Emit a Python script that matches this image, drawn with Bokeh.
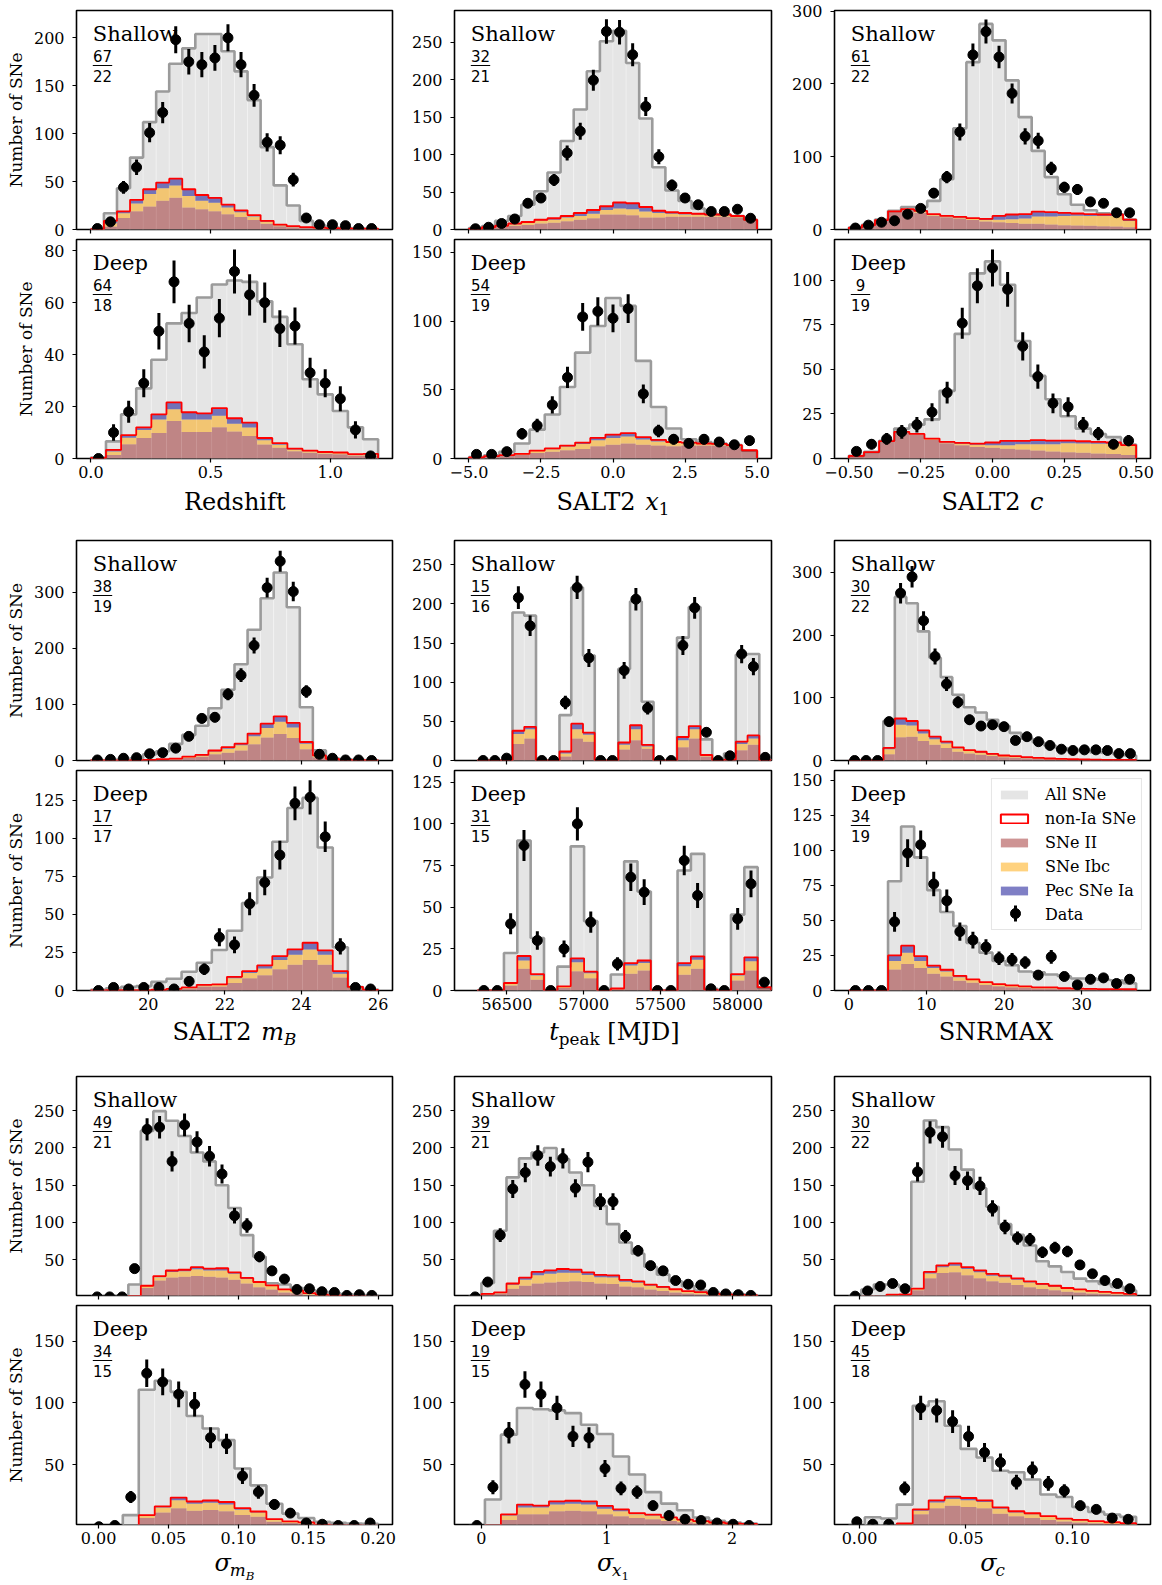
import numpy as np
from bokeh.plotting import figure
from bokeh.layouts import column, row
from bokeh.models import Range1d, FixedTicker, Legend, LegendItem
from bokeh.core.properties import value
from bokeh.embed import file_html
from bokeh.resources import INLINE

# ---------------- data ----------------
# bin ranges (lo, hi); shallow and deep fields use their own bin counts
z_range = (0.0, 1.2)
x1_range = (-5.0, 5.0)
c_range = (-0.5, 0.5)
mb_range = (18.5, 26.0)
tpeak_range = (56307.0, 58219.0)
snr_range = (0.0, 37.0)
smb_range = (-0.0055, 0.2)
sx1_range = (-0.1, 2.2)
sc_range = (-0.005, 0.13)

# redshift
z_shallow_sim = [0.5, 17, 43, 75, 112, 144, 173, 189, 204, 204, 186, 165, 135, 86, 46, 25, 9, 4, 2, 1.5, 1, 0.5]
z_shallow_ii = [0.2, 3, 12, 19, 24, 30, 33, 23, 21, 19, 16, 13, 10, 6, 3.5, 2.4, 1.7, 1.4, 1, 0.8, 0.7, 0.5]
z_shallow_ibc = [0.1, 3.5, 5, 8, 13, 13, 13, 12, 9, 9, 7, 5, 3.5, 2, 1, 0.8, 0.6, 0.4, 0.4, 0.3, 0.2, 0.2]
z_shallow_pec = [0, 2.5, 2, 4, 5, 6, 7, 7, 6, 5, 3, 2, 1.5, 1, 0.5, 0.3, 0.2, 0.2, 0.1, 0.1, 0.1, 0.1]
z_shallow_data = [1, 8, 44, 65, 101, 122, 198, 175, 172, 179, 200, 172, 140, 91, 88, 52, 12, 5, 5, 4, 1, 1]
z_deep_sim = [0.4, 6.6, 17, 27, 38, 52, 56, 62, 67, 68.5, 68, 60.5, 54.5, 44, 30.5, 24.7, 18.3, 12, 7.4]
z_deep_ii = [0.1, 1.3, 5.5, 7.9, 9.8, 14.4, 10.2, 10.2, 12, 10.4, 8.7, 5.4, 4.1, 2.8, 2.2, 1.8, 1.6, 1.2, 1.2]
z_deep_ibc = [0.1, 1.4, 2.5, 3.1, 5.2, 4.6, 4.8, 4.8, 4.5, 3, 3.2, 1.6, 1.2, 0.7, 0.6, 0.5, 0.5, 0.4, 0.4]
z_deep_pec = [0, 0.6, 1, 1, 2, 2.6, 2.8, 2.4, 2.9, 2.1, 1.9, 0.9, 0.6, 0.3, 0.2, 0.2, 0.2, 0.1, 0.2]
z_deep_data = [0, 10, 18, 29, 49, 68, 52, 41, 54, 72, 63, 60, 50, 51, 33, 29, 23, 11, 1]

# SALT2 x1
x1_shallow_sim = [2, 4.5, 11.5, 18, 33, 51, 76, 118, 160, 211, 251, 265, 222, 148, 83, 52, 38, 28, 21, 20, 18, 13]
x1_shallow_ii = [1, 2, 3.5, 5, 6, 8, 9, 11, 13, 15, 20, 20, 19, 16, 16, 17, 17, 17, 17, 17, 16, 12]
x1_shallow_ibc = [0, 0.5, 1, 2, 3, 4, 4, 5, 5, 6, 6, 8, 8, 8, 6, 4, 3, 3, 2, 2, 1.5, 1]
x1_shallow_pec = [0, 0.5, 0.5, 1, 1, 1, 2, 2, 4, 5, 5, 8, 8, 6, 3, 2, 2, 1, 1, 1, 0.5, 0]
x1_shallow_data = [1, 3, 8, 14, 35, 42, 66, 102, 131, 199, 264, 263, 233, 164, 97, 59, 42, 33, 24, 24, 27, 15]
x1_deep_sim = [1, 2.4, 4.8, 10.9, 21, 32, 52, 77, 96.4, 116.7, 111, 71, 37.5, 21.8, 14, 12, 10.9, 9.7, 5.6]
x1_deep_ii = [0.8, 1.6, 2, 2.5, 4, 5, 6, 7, 9, 10, 11, 10, 9.5, 9, 9.5, 9.5, 9.5, 8.8, 5.5]
x1_deep_ibc = [0, 0.2, 0.3, 0.7, 1.4, 1.8, 2.7, 3.5, 4.3, 5, 5, 3.8, 2.8, 2.3, 1.6, 1.1, 1, 0.7, 0.4]
x1_deep_pec = [0, 0, 0.1, 0.2, 0.4, 0.5, 0.7, 1.1, 1.7, 2.4, 2.4, 1.7, 1.3, 0.7, 0.5, 0.3, 0.2, 0.2, 0.1]
x1_deep_data = [3, 3, 5, 18, 24, 39, 59, 103, 107, 102, 109, 47, 20, 14, 11, 14, 12, 10, 13]

# SALT2 c
c_shallow_sim = [2.7, 6.4, 13.7, 25.6, 31, 31, 39.3, 69, 139, 230, 282.6, 260, 205, 154.5, 108, 72, 48.5, 34, 26.5, 22.4, 21, 13.7]
c_shallow_ii = [2.7, 6, 13, 24.5, 27, 23, 19, 17, 15, 13, 11, 10, 9, 8, 8, 7, 6, 5.5, 5, 4.5, 4, 3]
c_shallow_ibc = [0, 0, 0, 0.3, 0.7, 2, 1.5, 1.2, 1.5, 1.5, 2, 3.5, 5, 7, 10, 11, 12.5, 13.5, 13.5, 14, 14.5, 9]
c_shallow_pec = [0, 0, 0, 0.2, 0.3, 0.6, 0.5, 0.5, 0.9, 1, 1.6, 5.2, 6.6, 6, 6.7, 5.8, 4.4, 3, 2.5, 2.1, 2.1, 1.7]
c_shallow_data = [2, 6, 10, 12, 21, 29, 50, 72, 134, 240, 272, 237, 187, 128, 122, 84, 58, 55, 38, 36, 23, 23]
c_deep_sim = [1.5, 3.7, 10, 16.8, 19, 22, 38, 70, 104, 110.7, 97.6, 66, 46.4, 33.3, 23.7, 16.8, 13.8, 12, 7.9]
c_deep_ii = [1.5, 3.6, 9.8, 14.5, 13.3, 10.5, 8.5, 7.5, 6.5, 6, 5.5, 5, 4.5, 4, 3.5, 3.2, 2.8, 2.5, 2]
c_deep_ibc = [0, 0, 0, 0.3, 0.3, 0.5, 0.5, 0.8, 1.2, 1.5, 2, 3, 3.5, 4, 5, 5.2, 5.5, 5.8, 5]
c_deep_pec = [0, 0, 0, 0.2, 0.2, 0.2, 0.3, 0.5, 0.7, 1.5, 2.4, 1.9, 2.3, 2, 1.5, 1.3, 1, 0.7, 0.5]
c_deep_data = [4, 8, 11, 15, 19, 26, 37, 76, 97, 107, 95, 63, 46, 31, 29, 19, 14, 8, 10]

# SALT2 mB
mb_shallow_sim = [0.5, 1, 2.4, 4, 11, 16.6, 29.6, 45.6, 62, 93, 126, 171.6, 233, 289, 335, 273, 95, 18, 4, 2, 0.6, 0.3]
mb_shallow_ii = [0.1, 0.2, 0.3, 0.5, 0.8, 1.6, 2.3, 4.5, 6.5, 11, 14, 18, 29, 41, 47, 40, 20, 6, 2, 0.8, 0.4, 0.2]
mb_shallow_ibc = [0, 0, 0, 0.1, 0.3, 0.6, 0.8, 1.8, 2.6, 5, 7, 9, 14, 17, 22, 19, 10, 2.3, 0.8, 0.3, 0.15, 0.08]
mb_shallow_pec = [0, 0, 0, 0, 0.1, 0.2, 0.4, 0.7, 0.9, 1.8, 2.7, 3, 5, 7.7, 9.7, 8, 3, 0.7, 0.2, 0.1, 0.05, 0.02]
mb_shallow_data = [1, 2, 4, 5, 12, 14, 22, 43, 75, 77, 118, 152, 205, 308, 355, 301, 123, 11, 4, 1, 1, 0]
mb_deep_sim = [0.4, 1.5, 2.4, 2.9, 5.7, 7.7, 12.3, 18.2, 26.6, 39.3, 57.4, 74.3, 97.8, 120, 126.6, 94, 28.4, 2.2, 0.7]
mb_deep_ii = [0.05, 0.1, 0.2, 0.2, 0.3, 0.7, 1.3, 2.6, 2.6, 5, 8, 10, 14, 17, 20, 17, 8.5, 1.5, 0.3]
mb_deep_ibc = [0.03, 0.07, 0.07, 0.07, 0.15, 0.3, 0.5, 0.8, 1.1, 3, 3.5, 4.5, 6, 6.5, 7, 6.5, 2.5, 0.7, 0.1]
mb_deep_pec = [0.02, 0.03, 0.03, 0.03, 0.05, 0.1, 0.2, 0.3, 0.3, 1, 1.2, 2, 2.6, 3.5, 4.4, 2.9, 1.7, 0.2, 0]
mb_deep_data = [0, 2, 1, 2, 2, 1, 6, 14, 35, 30, 57, 71, 89, 123, 127, 101, 29, 2, 1]

# t_peak
tp_shallow_sim = [0, 0, 0, 189, 185, 0, 0, 58, 221, 134, 0, 0, 117, 203, 75, 0, 0, 157, 196, 27, 0, 9, 135, 136, 1]
tp_shallow_ii = [0, 0, 0, 21, 28, 0, 0, 5, 28, 24, 0, 0, 14, 26, 15, 0, 0, 17, 28, 5, 0, 0.5, 13, 20, 0.3]
tp_shallow_ibc = [0, 0, 0, 13, 12, 0, 0, 4, 12, 9, 0, 0, 6, 14, 3, 0, 0, 9, 12, 1.5, 0, 0.3, 8, 8, 0.1]
tp_shallow_pec = [0, 0, 0, 4, 3, 0, 0, 2.5, 7, 2.6, 0, 0, 3, 5, 2, 0, 0, 4, 4, 0.5, 0, 0.2, 3, 4, 0.1]
tp_shallow_data = [0, 0, 3, 208, 172, 0, 0, 74, 221, 131, 0, 0, 115, 206, 67, 0, 0, 147, 195, 36, 0, 6, 136, 120, 4]
tp_deep_sim = [0, 0, 22.5, 90, 31.5, 0, 14.3, 86.5, 41.6, 0, 9.6, 77.5, 59.4, 0, 0, 72, 82, 1, 0, 45.5, 74, 1.6]
tp_deep_ii = [0, 0, 3, 13, 6.5, 0, 1.5, 11.5, 7.3, 0, 0.8, 10, 12, 0, 0, 9.5, 13, 0.3, 0, 6, 12, 1.5]
tp_deep_ibc = [0, 0, 1, 5, 2.5, 0, 0.7, 5.5, 3, 0, 0.3, 5, 4.5, 0, 0, 5, 5.5, 0.1, 0, 3, 5.5, 0.4]
tp_deep_pec = [0, 0, 0.5, 2.7, 0.8, 0, 0.3, 2.3, 1, 0, 0.1, 1.4, 1.5, 0, 0, 1.9, 2, 0.1, 0, 0.8, 2.4, 0.1]
tp_deep_data = [0, 0, 40, 87, 30, 0, 25, 100, 41, 0, 16, 68, 59, 0, 0, 78, 57, 1, 0, 43, 64, 5]

# SNRMAX
snr_shallow_sim = [0, 0, 0, 63, 261, 251, 206, 164, 133, 105, 85, 76.5, 65, 55, 44, 35, 29, 24, 20, 17, 15, 13, 12, 10, 8]
snr_shallow_ii = [0, 0, 0, 10, 37, 38, 31, 25, 20, 14, 11, 9, 7, 5, 4.5, 3.5, 2.8, 2.1, 1.6, 1.3, 1, 0.8, 0.6, 0.6, 0.6]
snr_shallow_ibc = [0, 0, 0, 8, 20, 18, 12, 9, 7, 5, 4, 3.5, 2.6, 2.2, 1.8, 1.4, 1.1, 0.8, 0.7, 0.5, 0.4, 0.4, 0.3, 0.3, 0.3]
snr_shallow_pec = [0, 0, 0, 2, 10, 7, 5, 4, 3, 2, 1.5, 1.5, 1, 0.8, 0.7, 0.4, 0.3, 0.3, 0.2, 0.2, 0.2, 0.1, 0.1, 0.1, 0.1]
snr_shallow_data = [0, 0, 0, 62, 267, 293, 223, 166, 122, 93, 65, 55, 57, 54, 32, 38, 30, 24, 18, 16, 17, 17, 16, 11, 11]
snr_deep_sim = [0, 0, 0, 78, 117, 95, 71.6, 56, 46, 34, 27, 21, 18, 13.6, 13, 11.4, 10.2, 8.6, 8.6, 7.7, 7.3, 5.2]
snr_deep_ii = [0, 0, 0, 15, 19, 16, 12, 10, 7, 5.5, 4, 3, 2.4, 2, 1.5, 1.5, 1, 0.9, 0.8, 0.6, 0.6, 0.6]
snr_deep_ibc = [0, 0, 0, 6, 8, 5, 4, 3.5, 2.5, 2, 1.5, 1.1, 0.9, 0.7, 0.6, 0.6, 0.4, 0.4, 0.3, 0.3, 0.3, 0.2]
snr_deep_pec = [0, 0, 0, 4, 5, 3.5, 1.7, 1.3, 1, 0.5, 0.5, 0.4, 0.3, 0.3, 0.2, 0.2, 0.2, 0.1, 0.1, 0.1, 0.1, 0.1]
snr_deep_data = [0, 0, 0, 49, 98, 104, 76, 64, 42, 36, 31, 23, 22, 20, 11, 24, 10, 4, 8, 9, 5, 8]

# sigma mB
smb_shallow_sim = [0, 0, 0.5, 16.6, 223, 249.5, 236.5, 216, 194, 182, 150, 119.5, 83, 54, 18.4, 16.6, 12, 9, 7, 5, 3.5, 2.5, 2]
smb_shallow_ii = [0, 0, 0, 1, 12, 22, 26, 27, 28, 27, 26, 23, 18, 13, 10, 6, 5, 3, 2, 1.2, 0.8, 0.6, 0.3]
smb_shallow_ibc = [0, 0, 0, 0.2, 2.5, 4.5, 7.5, 7.5, 9, 8.5, 9.5, 8, 6, 6, 4.5, 3.5, 3, 1.7, 0.9, 0.6, 0.5, 0.3, 0.2]
smb_shallow_pec = [0, 0, 0, 0.1, 0.5, 1.5, 2, 2, 3, 2.5, 3, 2, 1.5, 1, 1, 0.5, 0.5, 0.3, 0.1, 0.2, 0.2, 0.1, 0]
smb_shallow_data = [0, 0, 0, 38, 225, 228, 182, 231, 208, 189, 165, 109, 96, 54, 35, 24, 10, 11, 7, 6, 2, 3, 2]
smb_deep_sim = [0, 0.3, 9.4, 110.7, 118, 109, 89.5, 79.4, 70, 47, 33.4, 18.6, 10.6, 7, 3.9, 3.1, 2.6, 2.3]
smb_deep_ii = [0, 0, 0.3, 7, 11.5, 15, 13, 13.5, 12.5, 9.5, 8, 4, 3, 2.4, 1.1, 0.7, 0.7, 0.5]
smb_deep_ibc = [0, 0, 0.1, 1.8, 4, 6.5, 5.5, 5.8, 5.5, 4.2, 3.5, 1.7, 1, 0.8, 0.4, 0.3, 0.2, 0.2]
smb_deep_pec = [0, 0, 0.1, 0.6, 0.9, 2.1, 1.9, 1.9, 2, 1.3, 0.8, 0.5, 0.3, 0.3, 0.1, 0.1, 0.1, 0.1]
smb_deep_data = [0, 1, 24, 124, 117, 107, 99, 72, 67, 41, 28, 18, 11, 3, 2, 1, 1, 3]

# sigma x1
sx1_shallow_sim = [0.5, 18.8, 88.8, 160.5, 186, 194, 200, 185, 167, 150, 122, 97.7, 73, 58, 40.6, 30, 21, 14.4, 8.6, 6, 4.5, 3.5, 2.5]
sx1_shallow_ii = [0, 3, 4.5, 11, 15, 18, 19.5, 20.5, 21, 20, 18, 17.5, 14, 13, 10, 8, 6, 4.5, 3.6, 2.6, 2, 1.6, 1.3]
sx1_shallow_ibc = [0, 0.7, 1.2, 5.5, 8, 11, 11.5, 12, 11.5, 9.5, 8.5, 8.5, 6.5, 6, 5, 4, 3.2, 2.5, 2.2, 1.5, 1.2, 0.9, 0.8]
sx1_shallow_pec = [0, 0.3, 0.3, 1.5, 3, 4.5, 4.7, 5, 4.1, 3.5, 3, 3, 2.5, 2, 1.6, 1.4, 1.1, 0.7, 0.5, 0.4, 0.3, 0.3, 0.2]
sx1_shallow_data = [0, 20, 83, 145, 167, 190, 175, 186, 146, 181, 128, 128, 81, 62, 42, 35, 22, 17, 16, 6, 4, 3, 2]
sx1_deep_sim = [0.5, 22, 74.4, 96, 95, 94, 91.8, 82.4, 75, 56.7, 42.2, 28, 18.7, 13.3, 7.4, 4.7, 3.4, 2.6]
sx1_deep_ii = [0.2, 0.6, 5.5, 10, 10, 12.5, 13, 12.5, 10, 8.5, 7, 6, 4.7, 3.6, 2.8, 2, 1.6, 1.4]
sx1_deep_ibc = [0.1, 0.3, 3.5, 5.5, 5.5, 5.5, 5.5, 5.5, 4.5, 4, 3, 3, 2.3, 1.8, 1.4, 1.1, 0.8, 0.7]
sx1_deep_pec = [0, 0.1, 1, 2.4, 1.5, 2.5, 2.5, 2.5, 2.3, 1.5, 1, 0.8, 0.6, 0.4, 0.3, 0.3, 0.2, 0.2]
sx1_deep_data = [1, 32, 76, 115, 107, 96, 73, 72, 47, 31, 28, 17, 9, 6, 5, 3, 2, 1]

# sigma c
sc_shallow_sim = [0.5, 10, 16.6, 16.6, 13.5, 154.7, 237, 228, 198, 171, 146, 121, 97.7, 83.4, 69, 47.8, 41, 33.5, 24.6, 21, 17.5, 13.5, 8.6]
sc_shallow_ii = [0, 0.2, 0.3, 2, 2.5, 9, 25, 32, 33, 29, 25, 21, 19, 16, 13, 10.5, 9, 7, 6, 4.5, 4, 3.2, 2.3]
sc_shallow_ibc = [0, 0, 0, 0.7, 0.8, 1.5, 6.5, 8, 9, 8.5, 8, 7.5, 7.5, 7, 6.5, 5.5, 4.8, 4, 3.3, 2.8, 2.3, 1.9, 1.4]
sc_shallow_pec = [0, 0, 0, 0.3, 0.2, 0.5, 2, 2.4, 3, 2.5, 2.7, 2.5, 2.1, 2, 1.5, 1.5, 1.2, 1, 0.7, 0.7, 0.5, 0.4, 0.3]
sc_shallow_data = [1, 8, 14, 18, 11, 168, 221, 215, 163, 156, 149, 119, 94, 79, 77, 60, 66, 61, 43, 31, 22, 18, 11]
sc_deep_sim = [1, 7.7, 6.6, 17.9, 97.7, 101.4, 81.6, 62.9, 56, 45.2, 44, 38.2, 26, 24, 16, 12, 9.8, 8]
sc_deep_ii = [0, 0.3, 0.5, 1.5, 10, 15, 17, 16, 15, 10.5, 8.5, 7, 5.5, 4.2, 3.4, 2.8, 2.2, 1.8]
sc_deep_ibc = [0, 0, 0, 0.8, 3, 4.5, 5.5, 5.5, 5, 4, 3, 3, 2.4, 1.9, 1.6, 1.4, 1.1, 0.9]
sc_deep_pec = [0, 0, 0, 0.3, 1, 1.8, 1.8, 1.7, 1.3, 1.2, 1, 0.9, 0.6, 0.5, 0.5, 0.3, 0.3, 0.2]
sc_deep_data = [4, 2, 2, 31, 96, 94, 85, 73, 60, 52, 36, 46, 35, 29, 17, 14, 7, 6]

# chi2 / dof shown under the field name
chi2 = {
    "z": (("67", "22"), ("64", "18")),
    "x1": (("32", "21"), ("54", "19")),
    "c": (("61", "22"), ("9", "19")),
    "mb": (("38", "19"), ("17", "17")),
    "tp": (("15", "16"), ("31", "15")),
    "snr": (("30", "22"), ("34", "19")),
    "smb": (("49", "21"), ("34", "15")),
    "sx1": (("39", "21"), ("19", "15")),
    "sc": (("30", "22"), ("45", "18")),
}

# axes: x view, x ticks/labels, y views and ticks
z_xview = (-0.06, 1.26)
z_xticks = [0.0, 0.5, 1.0]
z_xlabels = ["0.0", "0.5", "1.0"]
x1_xview = (-5.5, 5.5)
x1_xticks = [-5.0, -2.5, 0.0, 2.5, 5.0]
x1_xlabels = ["\u22125.0", "\u22122.5", "0.0", "2.5", "5.0"]
c_xview = (-0.55, 0.55)
c_xticks = [-0.5, -0.25, 0.0, 0.25, 0.5]
c_xlabels = ["\u22120.50", "\u22120.25", "0.00", "0.25", "0.50"]
mb_xview = (18.125, 26.375)
mb_xticks = [20, 22, 24, 26]
mb_xlabels = ["20", "22", "24", "26"]
tp_xview = (56159, 58222)
tp_xticks = [56500, 57000, 57500, 58000]
tp_xlabels = ["56500", "57000", "57500", "58000"]
snr_xview = (-1.85, 38.85)
snr_xticks = [0, 10, 20, 30]
snr_xlabels = ["0", "10", "20", "30"]
smb_xview = (-0.0158, 0.2103)
smb_xticks = [0.0, 0.05, 0.1, 0.15, 0.2]
smb_xlabels = ["0.00", "0.05", "0.10", "0.15", "0.20"]
sx1_xview = (-0.215, 2.315)
sx1_xticks = [0, 1, 2]
sx1_xlabels = ["0", "1", "2"]
sc_xview = (-0.01175, 0.13675)
sc_xticks = [0.0, 0.05, 0.1]
sc_xlabels = ["0.00", "0.05", "0.10"]

yviews = {
    "z": ((0, 228.5), (0, 84.3)), "x1": ((0, 292), (0, 159.3)), "c": ((0, 301), (0, 123)),
    "mb": ((0, 392), (0, 144.6)), "tp": ((0, 281), (0, 132)), "snr": ((0, 351), (0, 157)),
    "smb": ((1.9, 296), (1.8, 178.8)), "sx1": ((1.9, 296), (1.8, 178.8)), "sc": ((1.9, 296), (1.8, 178.8)),
}
yticks = {
    "z": ([0, 50, 100, 150, 200], [0, 20, 40, 60, 80]),
    "x1": ([0, 50, 100, 150, 200, 250], [0, 50, 100, 150]),
    "c": ([0, 100, 200, 300], [0, 25, 50, 75, 100]),
    "mb": ([0, 100, 200, 300], [0, 25, 50, 75, 100, 125]),
    "tp": ([0, 50, 100, 150, 200, 250], [0, 25, 50, 75, 100, 125]),
    "snr": ([0, 100, 200, 300], [0, 25, 50, 75, 100, 125, 150]),
    "smb": ([50, 100, 150, 200, 250], [50, 100, 150]),
    "sx1": ([50, 100, 150, 200, 250], [50, 100, 150]),
    "sc": ([50, 100, 150, 200, 250], [50, 100, 150]),
}

# axis titles as (text, italic, size px, baseline shift px); blank pieces are spacing only
xtitles = {
    "z": [("Redshift", False, 24, 0)],
    "x1": [("SALT2", False, 24, 0), (" ", False, 24, 0), ("x", True, 24, 0), ("1", False, 16.8, -5)],
    "c": [("SALT2", False, 24, 0), (" ", False, 24, 0), ("c", True, 24, 0)],
    "mb": [("SALT2", False, 24, 0), (" ", False, 24, 0), ("m", True, 24, 0), ("B", True, 16.8, -5)],
    "tp": [("t", True, 24, 0), ("peak", False, 16.8, -5), (" ", False, 24, 0), ("[MJD]", False, 24, 0)],
    "snr": [("SNRMAX", False, 24, 0)],
    "smb": [("\u03c3", True, 24, 0), ("m", True, 16.8, -5), ("B", True, 11.8, -8.5)],
    "sx1": [("\u03c3", True, 24, 0), ("x", True, 16.8, -5), ("1", False, 11.8, -8.5)],
    "sc": [("\u03c3", True, 24, 0), ("c", True, 16.8, -5)],
}

panels = {
    "z": dict(bins=z_range, xview=z_xview, xticks=z_xticks, xlabels=z_xlabels,
              shallow=(z_shallow_sim, z_shallow_ii, z_shallow_ibc, z_shallow_pec, z_shallow_data),
              deep=(z_deep_sim, z_deep_ii, z_deep_ibc, z_deep_pec, z_deep_data)),
    "x1": dict(bins=x1_range, xview=x1_xview, xticks=x1_xticks, xlabels=x1_xlabels,
               shallow=(x1_shallow_sim, x1_shallow_ii, x1_shallow_ibc, x1_shallow_pec, x1_shallow_data),
               deep=(x1_deep_sim, x1_deep_ii, x1_deep_ibc, x1_deep_pec, x1_deep_data)),
    "c": dict(bins=c_range, xview=c_xview, xticks=c_xticks, xlabels=c_xlabels,
              shallow=(c_shallow_sim, c_shallow_ii, c_shallow_ibc, c_shallow_pec, c_shallow_data),
              deep=(c_deep_sim, c_deep_ii, c_deep_ibc, c_deep_pec, c_deep_data)),
    "mb": dict(bins=mb_range, xview=mb_xview, xticks=mb_xticks, xlabels=mb_xlabels,
               shallow=(mb_shallow_sim, mb_shallow_ii, mb_shallow_ibc, mb_shallow_pec, mb_shallow_data),
               deep=(mb_deep_sim, mb_deep_ii, mb_deep_ibc, mb_deep_pec, mb_deep_data)),
    "tp": dict(bins=tpeak_range, xview=tp_xview, xticks=tp_xticks, xlabels=tp_xlabels,
               shallow=(tp_shallow_sim, tp_shallow_ii, tp_shallow_ibc, tp_shallow_pec, tp_shallow_data),
               deep=(tp_deep_sim, tp_deep_ii, tp_deep_ibc, tp_deep_pec, tp_deep_data)),
    "snr": dict(bins=snr_range, xview=snr_xview, xticks=snr_xticks, xlabels=snr_xlabels,
                shallow=(snr_shallow_sim, snr_shallow_ii, snr_shallow_ibc, snr_shallow_pec, snr_shallow_data),
                deep=(snr_deep_sim, snr_deep_ii, snr_deep_ibc, snr_deep_pec, snr_deep_data)),
    "smb": dict(bins=smb_range, xview=smb_xview, xticks=smb_xticks, xlabels=smb_xlabels,
                shallow=(smb_shallow_sim, smb_shallow_ii, smb_shallow_ibc, smb_shallow_pec, smb_shallow_data),
                deep=(smb_deep_sim, smb_deep_ii, smb_deep_ibc, smb_deep_pec, smb_deep_data)),
    "sx1": dict(bins=sx1_range, xview=sx1_xview, xticks=sx1_xticks, xlabels=sx1_xlabels,
                shallow=(sx1_shallow_sim, sx1_shallow_ii, sx1_shallow_ibc, sx1_shallow_pec, sx1_shallow_data),
                deep=(sx1_deep_sim, sx1_deep_ii, sx1_deep_ibc, sx1_deep_pec, sx1_deep_data)),
    "sc": dict(bins=sc_range, xview=sc_xview, xticks=sc_xticks, xlabels=sc_xlabels,
               shallow=(sc_shallow_sim, sc_shallow_ii, sc_shallow_ibc, sc_shallow_pec, sc_shallow_data),
               deep=(sc_deep_sim, sc_deep_ii, sc_deep_ibc, sc_deep_pec, sc_deep_data)),
}
grid_keys = [["z", "x1", "c"], ["mb", "tp", "snr"], ["smb", "sx1", "sc"]]

# ---------------- styles / geometry ----------------
GRAY_FILL = "#e5e5e5"
GRAY_LINE = "#9b9b9b"
II_COLOR, II_ALPHA = "#8b0000", 0.42
IBC_COLOR, IBC_ALPHA = "#ffa500", 0.5
PEC_COLOR, PEC_ALPHA = "#00008b", 0.5
SERIF = "DejaVu Serif"
RAISE = 0.36  # glyph text lands this many em below its anchor in the svg output

COL_BL = [76, 57, 58]
COL_FW = [316, 317, 316]
COL_BR = [5, 5, 4]
# top border / frame height / gap borders / deep bottom border / title baseline below deep frame
BLOCKS = [
    dict(sh_bt=10, fh=219, sh_bb=9, de_bt=1, de_bb=80, title_off=52),
    dict(sh_bt=2, fh=220, sh_bb=9, de_bt=1, de_bb=77, title_off=50),
    dict(sh_bt=9, fh=219, sh_bb=9, de_bt=1, de_bb=59, title_off=47),
]

SERIF_EM = {" ": 0.318, "S": 0.685, "A": 0.722, "L": 0.667, "T": 0.667, "2": 0.636, "1": 0.636,
            "R": 0.733, "e": 0.592, "d": 0.640, "s": 0.513, "h": 0.644, "i": 0.320, "f": 0.370,
            "t": 0.402, "N": 0.748, "M": 0.872, "X": 0.725, "J": 0.472, "D": 0.771, "[": 0.390,
            "]": 0.390, "p": 0.640, "a": 0.596, "k": 0.609}
ITALIC_EM = {"x": 0.564, "c": 0.560, "m": 0.948, "B": 0.735, "t": 0.402, "\u03c3": 0.634}
FAR = -1.0e9  # off-screen anchor for legend-only glyphs


def draw_hist(p, lo, hi, sim, ii, ibc, pec, data):
    sim = np.asarray(sim, float)
    ii = np.asarray(ii, float)
    ibc = np.asarray(ibc, float)
    pec = np.asarray(pec, float)
    d = np.asarray(data, float)
    edges = np.linspace(lo, hi, len(sim) + 1)
    left, right = edges[:-1], edges[1:]
    mid = 0.5 * (left + right)
    p.quad(left=left, right=right, bottom=0, top=sim, fill_color=GRAY_FILL,
           line_color="white", line_alpha=0.35, line_width=0.8)
    sx = np.repeat(edges, 2)
    p.line(sx, np.concatenate([[0], np.repeat(sim, 2), [0]]), line_color=GRAY_LINE, line_width=2.6)
    b1 = ii
    b2 = ii + ibc
    b3 = b2 + pec
    p.quad(left=left, right=right, bottom=0, top=b1, fill_color=II_COLOR, fill_alpha=II_ALPHA, line_color=None)
    p.quad(left=left, right=right, bottom=b1, top=b2, fill_color=IBC_COLOR, fill_alpha=IBC_ALPHA, line_color=None)
    p.quad(left=left, right=right, bottom=b2, top=b3, fill_color=PEC_COLOR, fill_alpha=PEC_ALPHA, line_color=None)
    p.line(sx, np.concatenate([[0], np.repeat(b3, 2), [0]]), line_color="red", line_width=1.8)
    err = np.sqrt(d)
    p.segment(x0=mid, y0=d - err, x1=mid, y1=d + err, line_color="black", line_width=3)
    p.scatter(mid, d, size=10, fill_color="black", line_color="black")


def draw_xtitle(p, c, fh, xv, yv, off, pieces):
    # x-axis title below the frame, drawn at overlay level so it is not clipped
    dxp = (xv[1] - xv[0]) / COL_FW[c]
    dyp = (yv[1] - yv[0]) / fh
    widths = [sum((ITALIC_EM if it else SERIF_EM).get(ch, 0.6) for ch in s) * sz
              for s, it, sz, dy in pieces]
    x = COL_FW[c] / 2 - sum(widths) / 2
    for (s, it, sz, dy), w in zip(pieces, widths):
        if s.strip():
            p.text(x=[xv[0] + x * dxp], y=[yv[0] - (off - dy - RAISE * sz) * dyp], text=[s],
                   text_font=value(SERIF), text_font_size=value(f"{sz}px"),
                   text_font_style=value("italic" if it else "normal"),
                   text_align="left", text_baseline="alphabetic", text_color="black",
                   level="overlay")
        x += w


def make_panel(c, bt, fh, bb, key, field, show_xlabels, title_off=None):
    spec = panels[key]
    xv = spec["xview"]
    yv = yviews[key][field]
    W = COL_BL[c] + COL_FW[c] + COL_BR[c]
    p = figure(width=W, height=bt + fh + bb, x_range=Range1d(*xv), y_range=Range1d(*yv),
               min_border_left=COL_BL[c], min_border_right=COL_BR[c],
               min_border_top=bt, min_border_bottom=bb, tools="",
               toolbar_location=None, output_backend="svg")
    p.grid.visible = False
    p.background_fill_color = "white"
    p.border_fill_color = "white"
    p.outline_line_color = "black"
    p.outline_line_width = 1.6

    p.xaxis.ticker = FixedTicker(ticks=spec["xticks"])
    p.xaxis.major_label_overrides = dict(zip(spec["xticks"], spec["xlabels"]))
    p.yaxis.ticker = FixedTicker(ticks=yticks[key][field])
    for ax in (p.xaxis[0], p.yaxis[0]):
        ax.axis_line_color = None
        ax.major_tick_out = 4
        ax.major_tick_in = 0
        ax.minor_tick_out = 0
        ax.minor_tick_in = 0
        ax.major_tick_line_width = 1.2
        ax.major_tick_line_color = "black"
        ax.major_label_text_font = SERIF
        ax.major_label_text_font_size = "16px"
        ax.major_label_text_color = "black"
    p.yaxis.major_label_standoff = 8
    if show_xlabels:
        p.xaxis.major_label_standoff = 3
    else:
        # upper panel of a pair: tick marks only
        p.xaxis.major_label_text_color = None
        p.xaxis.major_label_text_font_size = "1px"
        p.xaxis.major_label_standoff = 0
    if c == 0:
        p.yaxis.axis_label = "Number of SNe"
        p.yaxis.axis_label_text_font = SERIF
        p.yaxis.axis_label_text_font_size = "17px"
        p.yaxis.axis_label_text_font_style = "normal"
        p.yaxis.axis_label_text_color = "black"
        p.yaxis.axis_label_standoff = 5

    idx = 0 if field == 0 else 1
    sim, ii, ibc, pec, data = spec["shallow"] if field == 0 else spec["deep"]
    draw_hist(p, spec["bins"][0], spec["bins"][1], sim, ii, ibc, pec, data)

    # field name and chi2/dof fraction, placed in pixels from the frame's top-left
    dxp = (xv[1] - xv[0]) / COL_FW[c]
    dyp = (yv[1] - yv[0]) / fh
    num, den = chi2[key][idx]
    p.text(x=[xv[0] + 16.3 * dxp], y=[yv[1] - (31.5 - RAISE * 21) * dyp],
           text=["Shallow" if field == 0 else "Deep"],
           text_font=value(SERIF), text_font_size=value("21px"), text_align="left",
           text_baseline="alphabetic", text_color="black")
    cx = xv[0] + 26.0 * dxp
    p.text(x=[cx, cx], y=[yv[1] - (50.5 - RAISE * 15) * dyp, yv[1] - (70.5 - RAISE * 15) * dyp],
           text=[num, den], text_font=value("DejaVu Sans"), text_font_size=value("15px"),
           text_align="center", text_baseline="alphabetic", text_color="black")
    p.segment(x0=[xv[0] + 16.3 * dxp], y0=[yv[1] - 55.0 * dyp], x1=[xv[0] + 35.7 * dxp],
              y1=[yv[1] - 55.0 * dyp], line_color="black", line_width=1.1)
    if title_off is not None:
        draw_xtitle(p, c, fh, xv, yv, title_off, xtitles[key])
    return p


def add_legend(p, c, fh, key):
    q = dict(left=[FAR], right=[FAR + 1], bottom=[FAR], top=[FAR + 1])
    r_all = p.quad(**q, fill_color=GRAY_FILL, line_color=None)
    r_non = p.quad(**q, fill_color="white", line_color="red", line_width=2)
    r_ii = p.quad(**q, fill_color=II_COLOR, fill_alpha=II_ALPHA, line_color=None)
    r_ibc = p.quad(**q, fill_color=IBC_COLOR, fill_alpha=IBC_ALPHA, line_color=None)
    r_pec = p.quad(**q, fill_color=PEC_COLOR, fill_alpha=PEC_ALPHA, line_color=None)
    r_data = p.scatter(x=[FAR], y=[FAR], size=10, fill_alpha=0, line_alpha=0)
    legend = Legend(items=[
        LegendItem(label="All SNe", renderers=[r_all]),
        LegendItem(label="non-Ia SNe", renderers=[r_non]),
        LegendItem(label="SNe II", renderers=[r_ii]),
        LegendItem(label="SNe Ibc", renderers=[r_ibc]),
        LegendItem(label="Pec SNe Ia", renderers=[r_pec]),
        LegendItem(label="Data", renderers=[r_data]),
    ], location="top_right", margin=8, padding=5, spacing=4, label_height=20,
        glyph_height=11, glyph_width=34, label_standoff=14, label_text_font=SERIF,
        label_text_font_size="16px", label_text_color="black", border_line_color="#cccccc",
        border_line_width=1, background_fill_color="white", background_fill_alpha=0.0)
    p.add_layout(legend)
    # errorbar marker of the "Data" entry
    xv = panels[key]["xview"]
    yv = yviews[key][1]
    dxp = (xv[1] - xv[0]) / COL_FW[c]
    dyp = (yv[1] - yv[0]) / fh
    mx = xv[1] - 135 * dxp
    my = yv[1] - 143 * dyp
    p.segment(x0=[mx], y0=[my - 8 * dyp], x1=[mx], y1=[my + 8 * dyp], line_color="black",
              line_width=3, level="overlay")
    p.scatter(x=[mx], y=[my], size=10, fill_color="black", line_color="black", level="overlay")


rows = []
for b, keys in enumerate(grid_keys):
    g = BLOCKS[b]
    shallow_row, deep_row = [], []
    for c, key in enumerate(keys):
        shallow_row.append(make_panel(c, g["sh_bt"], g["fh"], g["sh_bb"], key, 0, False))
        pd_ = make_panel(c, g["de_bt"], g["fh"], g["de_bb"], key, 1, True, g["title_off"])
        if key == "snr":
            add_legend(pd_, c, g["fh"], key)
        deep_row.append(pd_)
    rows += [row(*shallow_row), row(*deep_row)]

layout = column(*rows)
open("out.html", "w").write(file_html(layout, INLINE))
